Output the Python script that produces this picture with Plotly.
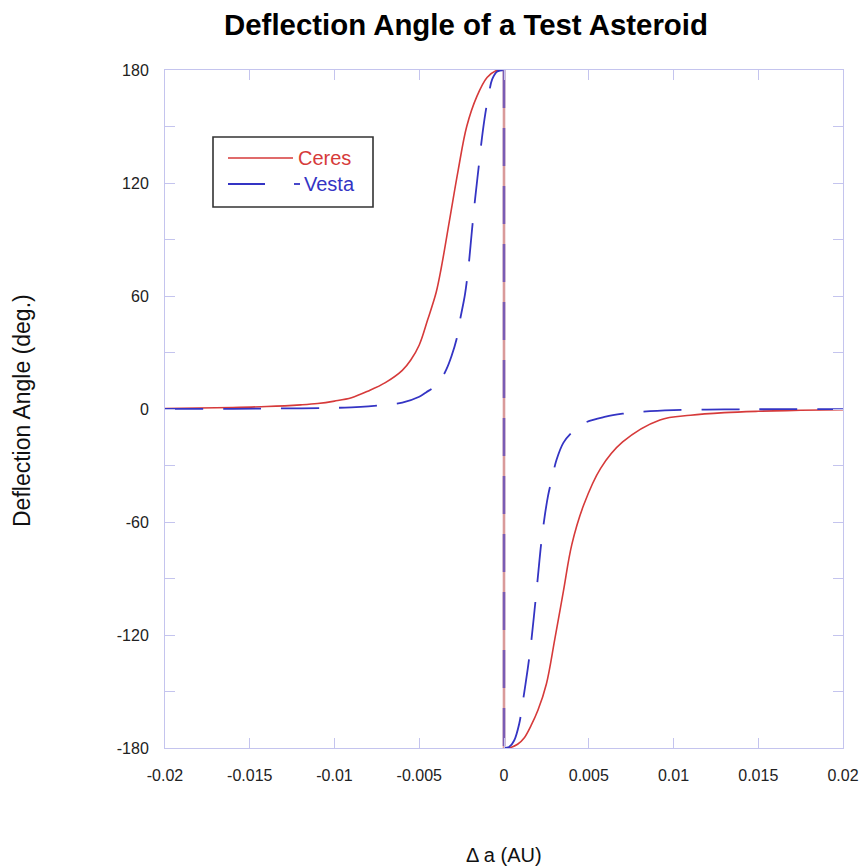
import plotly.graph_objects as go

# ---------------- data ----------------
ceres_left_x = [-0.020, -0.018, -0.016, -0.014, -0.012, -0.011, -0.010, -0.009, -0.008,
                -0.007, -0.006, -0.0055, -0.005, -0.0045, -0.0040, -0.0037, -0.0032,
                -0.0027, -0.0022, -0.0016, -0.0010, -0.0005, 0.0]
ceres_left_y = [0.3, 0.5, 0.8, 1.3, 2.2, 2.9, 4.2, 6.0, 9.6,
                14.0, 20.5, 26.0, 34.0, 47.5, 62.0, 75.0, 101.0,
                127.0, 150.0, 166.0, 176.0, 179.5, 180.0]
ceres_right_x = [0.0, 0.0004, 0.0008, 0.0012, 0.0016, 0.0020, 0.0025, 0.0030, 0.0035,
                 0.0040, 0.0047, 0.0057, 0.0070, 0.0092, 0.011, 0.013, 0.015, 0.0175, 0.020]
ceres_right_y = [-180.0, -179.7, -178.0, -174.5, -168.0, -160.0, -146.0, -122.0, -97.0,
                 -72.0, -51.0, -31.5, -17.5, -5.8, -3.3, -1.9, -1.2, -0.7, -0.4]

vesta_left_x = [-0.020, -0.016, -0.013, -0.010, -0.009, -0.008, -0.007, -0.006, -0.005,
                -0.0046, -0.004, -0.0037, -0.0034, -0.0031, -0.0028, -0.0026, -0.0024,
                -0.0023, -0.0021, -0.0019, -0.0017, -0.0015, -0.0013, -0.0011, -0.0009,
                -0.0007, -0.0004, 0.0]
vesta_left_y = [0.05, 0.1, 0.3, 0.6, 0.9, 1.4, 2.2, 3.4, 6.5,
                8.8, 12.5, 16.0, 21.0, 28.0, 37.0, 47.0, 56.0,
                61.0, 75.0, 94.0, 112.0, 128.0, 144.0, 157.0, 167.0,
                175.0, 179.2, 180.0]
vesta_right_x = [0.0, 0.0003, 0.0006, 0.0009, 0.0011, 0.0014, 0.0016, 0.0018, 0.0020,
                 0.0022, 0.0024, 0.0026, 0.0028, 0.0031, 0.0035, 0.004, 0.0047, 0.006,
                 0.007, 0.008, 0.010, 0.013, 0.016, 0.020]
vesta_right_y = [-180.0, -179.5, -176.0, -167.0, -156.0, -138.0, -124.0, -107.0, -89.0,
                 -71.0, -57.0, -46.0, -38.0, -27.0, -18.0, -12.5, -7.6, -4.1,
                 -2.5, -1.5, -0.6, -0.25, -0.1, -0.05]

jump_x = [0.0, 0.0]
jump_y = [180.0, -180.0]

x_ticks = [-0.02, -0.015, -0.01, -0.005, 0, 0.005, 0.01, 0.015, 0.02]
x_tick_labels = ["-0.02", "-0.015", "-0.01", "-0.005", "0", "0.005", "0.01", "0.015", "0.02"]
y_ticks = [-180, -120, -60, 0, 60, 120, 180]
y_tick_labels = ["-180", "-120", "-60", "0", "60", "120", "180"]
y_minor_ticks = [-150, -90, -30, 30, 90, 150]

series_names = ["Ceres", "Vesta"]

# ---------------- styling ----------------
RED = "#d63a3a"
BLUE = "#3434c4"
RED_JUMP = "#d99a9a"
BLUE_JUMP = "#7a5cb4"
AXIS = "#c4c4ee"
FONT = "Liberation Sans, Arial, Helvetica, sans-serif"

W, H = 862, 867
L, R, T, B = 165, 843, 70, 748   # plot area in pixels


def px(xp):
    return (xp - L) / (R - L)


def py(yp):
    return (B - yp) / (B - T)


fig = go.Figure()

red_line = dict(color=RED, width=1.6, shape="spline", smoothing=1.0)
blue_line = dict(color=BLUE, width=1.8, dash="38px,20px", shape="spline", smoothing=1.0)
red_jump = dict(color=RED_JUMP, width=2.6)
blue_jump = dict(color=BLUE_JUMP, width=2.6, dash="38px,20px")

for xs, ys, ln in [(ceres_left_x, ceres_left_y, red_line), (jump_x, jump_y, red_jump),
                   (ceres_right_x, ceres_right_y, red_line)]:
    fig.add_trace(go.Scatter(x=xs, y=ys, mode="lines", line=ln, hoverinfo="skip",
                             name=series_names[0], showlegend=False, cliponaxis=False))
for xs, ys, ln in [(vesta_left_x, vesta_left_y, blue_line), (jump_x, jump_y, blue_jump),
                   (vesta_right_x, vesta_right_y, blue_line)]:
    fig.add_trace(go.Scatter(x=xs, y=ys, mode="lines", line=ln, hoverinfo="skip",
                             name=series_names[1], showlegend=False, cliponaxis=False))

axis_common = dict(
    showgrid=False, zeroline=False,
    showline=True, linecolor=AXIS, linewidth=1, mirror="ticks",
    ticks="inside", ticklen=10, tickcolor=AXIS, tickwidth=1,
    tickfont=dict(family=FONT, size=16, color="#222222"),
)

fig.update_xaxes(range=[-0.02, 0.02], tickmode="array", tickvals=x_ticks, ticktext=x_tick_labels,
                 ticklabelstandoff=13, **axis_common)
fig.update_yaxes(range=[-180, 180], tickmode="array", tickvals=y_ticks, ticktext=y_tick_labels,
                 ticklabelstandoff=12,
                 minor=dict(tickvals=y_minor_ticks, ticks="inside", ticklen=10,
                            tickcolor=AXIS, tickwidth=1),
                 **axis_common)

# legend drawn by hand to match the reference box
shapes = [
    dict(type="rect", xref="paper", yref="paper", x0=px(213), x1=px(373), y0=py(137), y1=py(207),
         line=dict(color="#333333", width=1.6), fillcolor="white", layer="above"),
    dict(type="line", xref="paper", yref="paper", x0=px(228), x1=px(293), y0=py(158), y1=py(158),
         line=dict(color=RED, width=1.6)),
    dict(type="line", xref="paper", yref="paper", x0=px(228), x1=px(265), y0=py(184), y1=py(184),
         line=dict(color=BLUE, width=1.8)),
    dict(type="line", xref="paper", yref="paper", x0=px(294), x1=px(300), y0=py(184), y1=py(184),
         line=dict(color=BLUE, width=1.8)),
]

annotations = [
    dict(text=series_names[0], xref="paper", yref="paper", x=px(296), y=py(158), xanchor="left",
         yanchor="middle", showarrow=False, font=dict(family=FONT, size=20, color=RED)),
    dict(text=series_names[1], xref="paper", yref="paper", x=px(302), y=py(184), xanchor="left",
         yanchor="middle", showarrow=False, font=dict(family=FONT, size=20, color=BLUE)),
    dict(text="Deflection Angle (deg.)", xref="paper", yref="paper", x=px(22), y=py(411),
         xanchor="center", yanchor="middle", textangle=-90, showarrow=False,
         font=dict(family=FONT, size=23, color="#111111")),
    dict(text="\u0394 a (AU)", xref="paper", yref="paper", x=px(504), y=py(855),
         xanchor="center", yanchor="middle", showarrow=False,
         font=dict(family=FONT, size=20, color="#111111")),
]

fig.update_layout(
    width=W, height=H, autosize=False,
    margin=dict(l=L, r=W - R, t=T, b=H - B, autoexpand=False),
    paper_bgcolor="white", plot_bgcolor="white",
    title=dict(text="<b>Deflection Angle of a Test Asteroid</b>", xref="paper", x=px(466),
               xanchor="center", yref="container", y=1 - 25 / H, yanchor="middle",
               font=dict(family=FONT, size=29.4, color="#000000")),
    shapes=shapes, annotations=annotations,
    showlegend=False, hovermode=False,
)

fig.write_html(
    "out.html",
    config={"displayModeBar": False, "responsive": False},
    post_script="document.documentElement.style.margin='0px';"
                "document.body.style.margin='0px';"
                "document.documentElement.style.overflow='hidden';"
                "document.body.style.overflow='hidden';",
)
